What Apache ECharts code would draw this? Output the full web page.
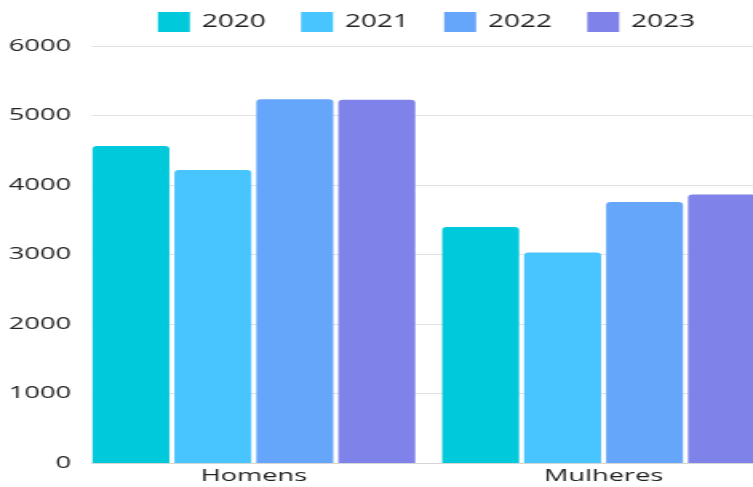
<!DOCTYPE html>
<html>
<head>
<meta charset="utf-8">
<script src="https://cdn.jsdelivr.net/npm/echarts@6/dist/echarts.min.js"></script>
<style>
html,body{margin:0;padding:0;overflow:hidden;background:#fff;width:753px;height:487px;}
#wrap{width:753px;height:487px;overflow:hidden;position:relative;}
#c{width:500px;height:487px;transform:scaleX(1.5987);transform-origin:0 0;position:absolute;left:0;top:0;}
</style>
</head>
<body>
<div id="wrap"><div id="c"></div></div>
<script>
const categories = ['Homens', 'Mulheres'];
const seriesNames = ['2020', '2021', '2022', '2023'];
const values2020 = [4560, 3395];
const values2021 = [4215, 3030];
const values2022 = [5235, 3755];
const values2023 = [5225, 3865];
const yTicks = [0, 1000, 2000, 3000, 4000, 5000, 6000];
const colors = ['#00C9DB', '#48C4FE', '#66A6FA', '#7F82E8'];

const allValues = [values2020, values2021, values2022, values2023];
const chart = echarts.init(document.getElementById('c'));
const font = '"Open Sans", "Noto Sans", sans-serif';
chart.setOption({
  animation: false,
  color: colors,
  textStyle: { fontFamily: font },
  legend: {
    left: 98.75, top: 12, padding: 0,
    itemWidth: 20, itemHeight: 20, itemGap: 22,
    icon: 'rect',
    textStyle: { fontSize: 17.5, color: '#222', fontFamily: font, padding: [0, 0, 0, 2.5] },
    data: seriesNames
  },
  grid: [
    { left: 57.5, top: 46, bottom: 24, width: 429.4, containLabel: false },
    { left: 49.4, top: 46, bottom: 24, width: 437.5, containLabel: false }
  ],
  xAxis: [
    { type: 'category', gridIndex: 0, data: categories,
      axisLine: { show: true, lineStyle: { color: '#d6d6d6', width: 1 } },
      axisTick: { show: false }, axisLabel: { show: false }, splitLine: { show: false } },
    { type: 'category', gridIndex: 1, data: categories,
      axisLine: { show: false }, axisTick: { show: false },
      axisLabel: { show: true, fontSize: 17, color: '#222', margin: 5, fontFamily: font } }
  ],
  yAxis: [
    { type: 'value', gridIndex: 0, min: yTicks[0], max: yTicks[yTicks.length - 1], interval: 1000,
      axisLine: { show: false }, axisTick: { show: false },
      axisLabel: { fontSize: 17, color: '#222', margin: 13, fontFamily: font,
        formatter: v => String(v) },
      splitLine: { show: true, lineStyle: { color: '#e2e2e2', width: 1 } } },
    { type: 'value', gridIndex: 1, min: yTicks[0], max: yTicks[yTicks.length - 1], interval: 1000,
      show: false, splitLine: { show: false } }
  ],
  series: seriesNames.map((name, i) => ({
    name: name,
    type: 'bar',
    xAxisIndex: 1,
    yAxisIndex: 1,
    data: allValues[i],
    barGap: '6.5%',
    barCategoryGap: '7.7%',
    itemStyle: { color: colors[i], borderRadius: [3, 3, 0, 0] }
  }))
});
</script>
</body>
</html>
